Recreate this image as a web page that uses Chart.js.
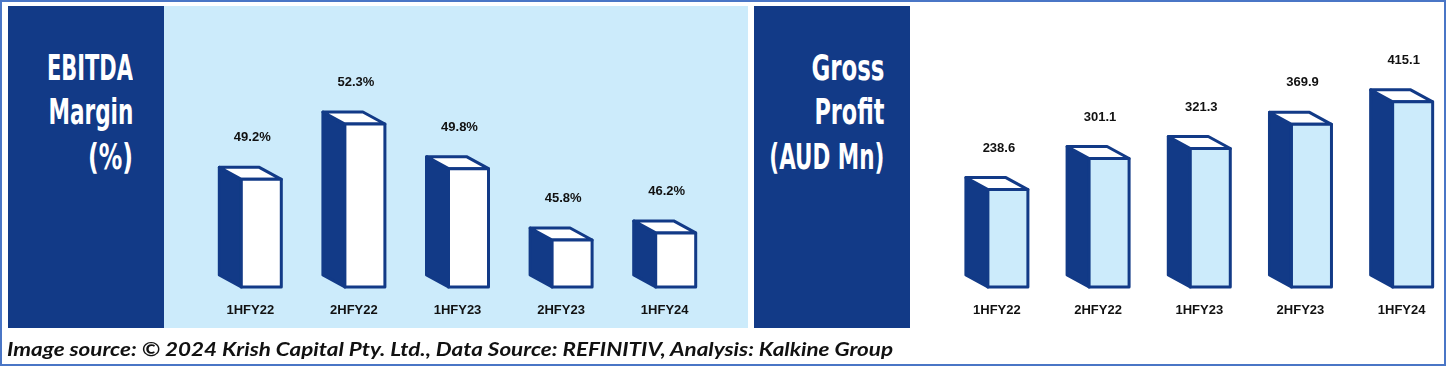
<!DOCTYPE html>
<html><head><meta charset="utf-8">
<script src="https://cdn.jsdelivr.net/npm/chart.js@4.4.1/dist/chart.umd.min.js"></script>
<style>
html,body{margin:0;padding:0;background:#fff;}
body{width:1448px;height:367px;overflow:hidden;position:relative;}
.frame{position:absolute;left:0;top:0;width:1446px;height:366px;box-sizing:border-box;border:2px solid #4A76C6;}
.block{position:absolute;top:6px;height:322px;background:#123A87;}
.panel{position:absolute;top:6px;height:322px;}
.tline{position:absolute;white-space:nowrap;color:#fff;font-family:"DejaVu Sans Condensed","DejaVu Sans",sans-serif;font-stretch:condensed;font-weight:bold;font-size:36px;line-height:36px;text-align:right;}
.tline span{display:inline-block;transform-origin:100% 50%;}
.footer{position:absolute;left:7px;top:339px;white-space:nowrap;font-family:Lato,"Open Sans",sans-serif;font-weight:bold;font-style:italic;font-size:19px;line-height:19px;color:#111;}
.footer span{display:inline-block;transform-origin:0 50%;}
canvas{position:absolute;display:block;}
</style>
</head>
<body>
<div class="block" style="left:8px;width:156px;"></div>
<div class="panel" style="left:164px;width:584px;background:#CCEBFB;"></div>
<div class="block" style="left:754px;width:156px;"></div>

<div class="tline" data-w="86" style="right:1315px;top:50px;"><span>EBITDA</span></div>
<div class="tline" data-w="85" style="right:1315px;top:94px;"><span>Margin</span></div>
<div class="tline" data-w="45" style="right:1315px;top:139px;"><span>(%)</span></div>

<div class="tline" data-w="73" style="right:564px;top:50px;"><span>Gross</span></div>
<div class="tline" data-w="70" style="right:564px;top:94px;"><span>Profit</span></div>
<div class="tline" data-w="115" style="right:564px;top:139px;"><span>(AUD Mn)</span></div>

<canvas id="c1" width="583" height="340" style="left:165px;top:6px;width:583px;height:340px;"></canvas>
<canvas id="c2" width="530" height="340" style="left:910px;top:6px;width:530px;height:340px;"></canvas>

<div class="footer" data-w="886"><span>Image source: © 2024 Krish Capital Pty. Ltd., Data Source: REFINITIV, Analysis: Kalkine Group</span></div>
<div class="frame"></div>

<script>
// ---- data ----
const categories = ['1HFY22', '2HFY22', '1HFY23', '2HFY23', '1HFY24'];
const ebitdaMargin = [49.2, 52.3, 49.8, 45.8, 46.2];
const grossProfit = [238.6, 301.1, 321.3, 369.9, 415.1];
const ebitdaValueLabels = ebitdaMargin.map(v => v.toFixed(1) + '%');
const grossValueLabels = grossProfit.map(v => v.toFixed(1));

function fitText() {
  document.querySelectorAll('[data-w]').forEach(d => {
    const s = d.querySelector('span');
    const w = s.getBoundingClientRect().width;
    const target = parseFloat(d.dataset.w);
    if (w > 0) s.style.transform = 'scaleX(' + (target / w) + ')';
  });
}
fitText();

const DARK = '#123A87';

const box3d = {
  id: 'box3d',
  afterDatasetsDraw(chart, args, opts) {
    const ctx = chart.ctx;
    const meta = chart.getDatasetMeta(0);
    const labels = chart.data.datasets[0].valueLabels;
    meta.data.forEach((el, i) => {
      const p = el.getProps(['x', 'y', 'base', 'width'], true);
      const x = p.x, y = p.y, base = p.base, width = p.width;
      const lw = opts.lineWidth, h = lw / 2;
      const dx = opts.depthX, dy = opts.depthY;
      const left = x - width / 2, right = x + width / 2;
      const fx = left + dx;
      ctx.save();
      ctx.lineJoin = 'round';
      ctx.lineWidth = lw;
      ctx.strokeStyle = DARK;
      // side face
      ctx.beginPath();
      ctx.moveTo(left + h, y - dy + h);
      ctx.lineTo(fx + h, y + h);
      ctx.lineTo(fx + h, base - h);
      ctx.lineTo(left + h, base - dy - h);
      ctx.closePath();
      ctx.fillStyle = DARK; ctx.fill(); ctx.stroke();
      // top face
      ctx.beginPath();
      ctx.moveTo(fx + h, y + h);
      ctx.lineTo(right - h, y + h);
      ctx.lineTo(right - h - dx, y - dy + h);
      ctx.lineTo(left + h, y - dy + h);
      ctx.closePath();
      ctx.fillStyle = '#ffffff'; ctx.fill(); ctx.stroke();
      // front face
      ctx.beginPath();
      ctx.rect(fx + h, y + h, right - fx - lw, base - y - lw);
      ctx.fillStyle = opts.front; ctx.fill(); ctx.stroke();
      // value label
      ctx.fillStyle = '#111111';
      ctx.font = 'bold 13px "Liberation Sans", Arial, sans-serif';
      ctx.textAlign = 'center';
      ctx.textBaseline = 'middle';
      ctx.fillText(labels[i], x + 2, y - opts.labelLift);
      ctx.restore();
    });
  }
};

function makeChart(id, values, valueLabels, yMin, yMax, padL, padR, frontColor) {
  return new Chart(document.getElementById(id), {
    type: 'bar',
    data: {
      labels: categories,
      datasets: [{
        data: values,
        valueLabels: valueLabels,
        base: yMin,
        backgroundColor: 'rgba(0,0,0,0)',
        borderWidth: 0,
        barThickness: 65,
        clip: false
      }]
    },
    options: {
      responsive: false,
      animation: false,
      events: [],
      layout: { padding: { left: padL, right: padR, top: 0, bottom: 12.9 } },
      plugins: {
        legend: { display: false },
        tooltip: { enabled: false },
        box3d: { lineWidth: 3, depthX: 22, depthY: 12, front: frontColor, labelLift: 40 }
      },
      scales: {
        x: {
          type: 'category',
          offset: false,
          grid: { display: false, drawTicks: false },
          border: { display: false },
          ticks: {
            color: '#111111',
            font: { family: '"Liberation Sans", Arial, sans-serif', weight: 'bold', size: 13 },
            padding: 14.5,
            maxRotation: 0,
            autoSkip: false
          }
        },
        y: { display: false, min: yMin, max: yMax }
      }
    },
    plugins: [box3d]
  });
}

makeChart('c1', ebitdaMargin, ebitdaValueLabels, 43.0, 58.83, 85.3, 83.3, '#ffffff');
makeChart('c2', grossProfit, grossValueLabels, 36.6, 604.9, 86.9, 33.9, '#CCEBFB');
</script>
</body></html>
